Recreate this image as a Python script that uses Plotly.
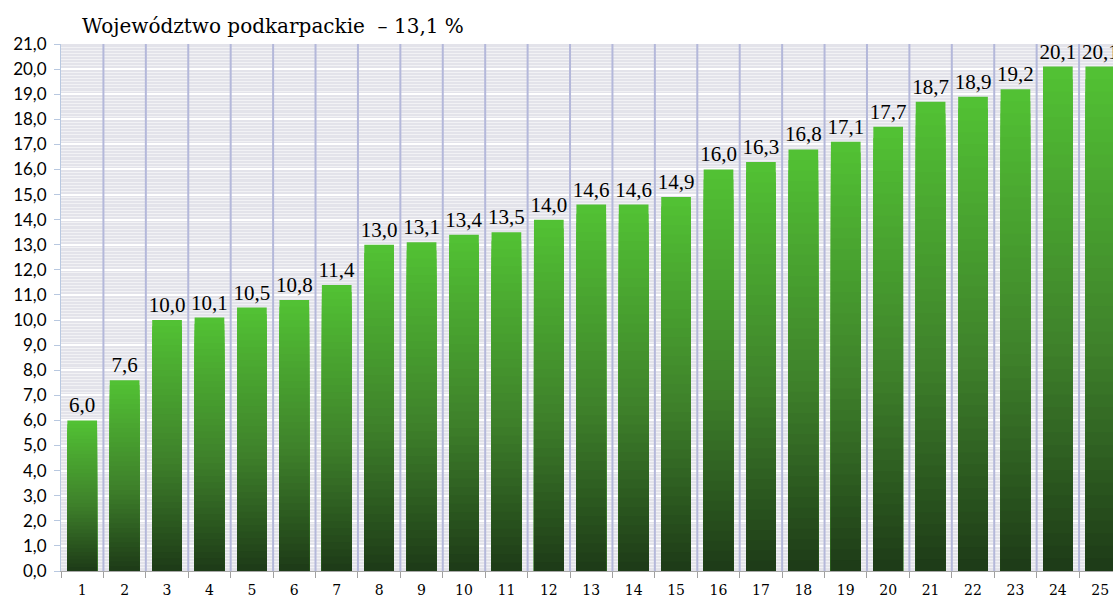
import plotly.graph_objects as go

categories = list(range(1, 26))
values = [6.0, 7.6, 10.0, 10.1, 10.5, 10.8, 11.4, 13.0, 13.1, 13.4, 13.5, 14.0, 14.6,
          14.6, 14.9, 16.0, 16.3, 16.8, 17.1, 17.7, 18.7, 18.9, 19.2, 20.1, 20.1]
title_text = "Województwo podkarpackie  – 13,1 %"

SERIF = "DejaVu Serif"
LABEL_SERIF = "Liberation Serif"
SANS = "Lato"
Y_MAX = 21

def hex2rgb(h):
    h = h.lstrip('#')
    return tuple(int(h[i:i+2], 16) for i in (0, 2, 4))

stops = [(0.0, hex2rgb('#1d3a17')), (0.45, hex2rgb('#3f822b')), (1.0, hex2rgb('#52c234'))]

def color_at(t):
    for (t0, c0), (t1, c1) in zip(stops[:-1], stops[1:]):
        if t0 <= t <= t1:
            f = (t - t0) / (t1 - t0)
            c = [round(a + (b - a) * f) for a, b in zip(c0, c1)]
            return f"rgb({c[0]},{c[1]},{c[2]})"
    c = stops[-1][1]
    return f"rgb({c[0]},{c[1]},{c[2]})"

fig = go.Figure()

# vertical separators between categories, drawn above the striped background
sep_x, sep_y = [], []
for c in categories[:-1]:
    sep_x += [c + 0.5, c + 0.5, None]
    sep_y += [0, Y_MAX, None]
fig.add_trace(go.Scatter(x=sep_x, y=sep_y, mode='lines',
                         line=dict(color='#b4b8da', width=2),
                         hoverinfo='skip', showlegend=False))

N = 40
labels = [f"{v:.1f}".replace('.', ',') for v in values]
for k in range(N, 0, -1):
    frac = k / N
    kw = {}
    if k == N:
        kw = dict(text=labels, textposition='outside', constraintext='none',
                  textfont=dict(family=LABEL_SERIF, size=21, color='#000000'),
                  cliponaxis=False)
    fig.add_trace(go.Bar(
        x=categories, y=[v * frac for v in values], width=0.7,
        marker=dict(color=color_at((k - 0.5) / N), line=dict(width=0)),
        hoverinfo='skip', showlegend=False, **kw))

fig.update_layout(
    width=1113, height=598,
    barmode='overlay',
    separators=', ',
    paper_bgcolor='white',
    plot_bgcolor='#e3e3ea',
    margin=dict(l=61, r=0, t=44, b=27),
    font=dict(family=SERIF, color='#000000'),
    annotations=[dict(text=title_text, xref='paper', yref='paper', x=19/1052, y=1,
                      yshift=4, xanchor='left', yanchor='bottom', showarrow=False,
                      font=dict(family=SERIF, size=20, color='#000000'))],
)
fig.update_xaxes(
    range=[0.5, 25.3], tickmode='array', tickvals=categories,
    ticktext=[str(c) for c in categories],
    tickfont=dict(family=SERIF, size=14, color='#000000'),
    showgrid=False, ticks='', ticklabelstandoff=6,
    showline=True, linecolor='#a8a8a8', linewidth=1,
    minor=dict(tick0=0.5, dtick=1, showgrid=False,
               ticks='outside', ticklen=6, tickcolor='#a0a0a0'),
    zeroline=False,
)
fig.update_yaxes(
    range=[0, Y_MAX], tickmode='linear', tick0=0, dtick=1, tickformat='.1f',
    tickfont=dict(family=SANS, size=17, color='#000000'),
    showgrid=True, gridcolor='#ffffff', gridwidth=2,
    ticks='outside', ticklen=6, tickcolor='#b8c8e0', ticklabelstandoff=4,
    showline=True, linecolor='#b8c8e0', linewidth=1,
    minor=dict(dtick=0.125, showgrid=True, gridcolor='#f2f2f5', gridwidth=1),
    zeroline=False,
)

fig.write_html("out.html", config={'displayModeBar': False},
               post_script="document.body.style.margin='0';document.body.style.padding='0';")
